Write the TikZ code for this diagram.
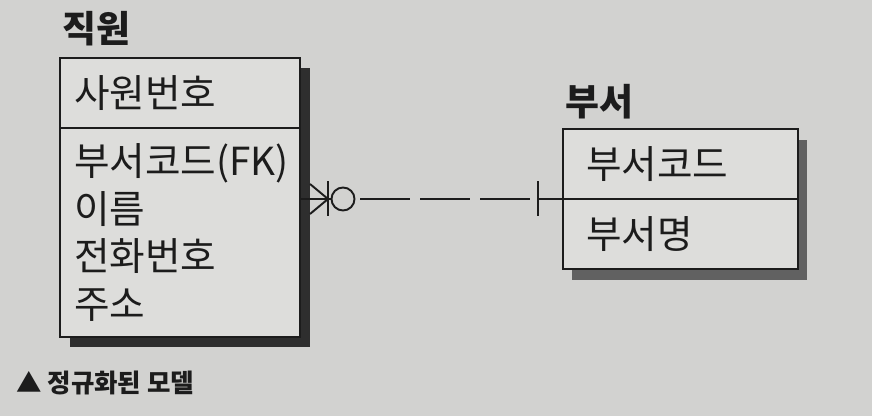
\documentclass[tikz,border=0pt]{standalone}
\usepackage{fontspec}
\newfontfamily\kr{Noto Sans CJK KR}
\usepackage{xcolor}
\usepackage{tikz}
\usetikzlibrary{positioning, shadows, calc}

\definecolor{pagegray}{RGB}{210,210,208}
\definecolor{boxgray}{RGB}{221,221,219}
\definecolor{inkgray}{RGB}{28,28,28}

\begin{document}
\begin{tikzpicture}[
    entity/.style={rectangle, draw=inkgray, line width=1.2pt, fill=boxgray,
                   outer sep=0pt, inner ysep=0pt, align=left,
                   font=\kr\fontsize{22pt}{27.3pt}\selectfont, text=inkgray},
    title/.style={font=\kr\bfseries\fontsize{21pt}{24pt}\selectfont,
                  text=inkgray, inner sep=0pt, anchor=west},
    rel/.style={draw=inkgray, line width=1.1pt},
    optional/.style={circle, draw=inkgray, line width=1.1pt, minimum size=0.46cm,
                     inner sep=0pt, outer sep=0pt}
]
\useasboundingbox[fill=pagegray] (0,0) rectangle (17.44,8.32);

% 직원
\node[title] (emptitle) at (1.24,7.74) {직원};
\node[entity, anchor=north west, inner xsep=0.28cm, text width=4.24cm,
      minimum height=1.4cm,
      drop shadow={shadow xshift=0.2cm, shadow yshift=-0.2cm, fill=black!82, opacity=1}]
    (empkey) at (1.2,7.16) {사원번호};
\node[entity, below=0pt of empkey, inner xsep=0.28cm, text width=4.24cm,
      minimum height=4.18cm,
      drop shadow={shadow xshift=0.2cm, shadow yshift=-0.2cm, fill=black!82, opacity=1}]
    (empattr) {부서코드(FK)\\이름\\전화번호\\주소};

% 부서
\node[title] (dpttitle) at (11.3,6.28) {부서};
\node[entity, anchor=north west, inner xsep=0.46cm, text width=3.78cm,
      minimum height=1.4cm,
      drop shadow={shadow xshift=0.18cm, shadow yshift=-0.22cm, fill=black!62, opacity=1}]
    (dptkey) at (11.26,5.74) {부서코드};
\node[entity, below=0pt of dptkey, inner xsep=0.46cm, text width=3.78cm,
      minimum height=1.4cm,
      drop shadow={shadow xshift=0.18cm, shadow yshift=-0.22cm, fill=black!62, opacity=1}]
    (dptattr) {부서명};

% relationship
\coordinate (toe) at ([xshift=0.2cm]empattr.east |- dptkey.south west);
\coordinate (apex) at ([xshift=0.36cm]toe);
\node[optional] (zero) at ([xshift=0.3cm]apex) {};
\coordinate (one) at ([xshift=-0.5cm]dptkey.south west);
\draw[rel] (empattr.east |- toe) -- (zero.west);
\draw[rel] ([yshift=0.3cm]toe) -- (apex) -- ([yshift=-0.3cm]toe);
\draw[rel] ([yshift=0.35cm]apex) -- ([yshift=-0.35cm]apex);
\draw[rel, dash pattern=on 28.4pt off 5.7pt, dash phase=30.7pt] (zero.east) -- (one);
\draw[rel] ([yshift=0.35cm]one) -- ([yshift=-0.35cm]one);
\draw[rel] (one) -- (dptkey.south west);

\node[font=\kr\bfseries\fontsize{14.5pt}{16pt}\selectfont, text=inkgray,
      inner sep=0pt, anchor=west] (caption) at (0.32,0.66) {▲ 정규화된 모델};
\end{tikzpicture}
\end{document}
